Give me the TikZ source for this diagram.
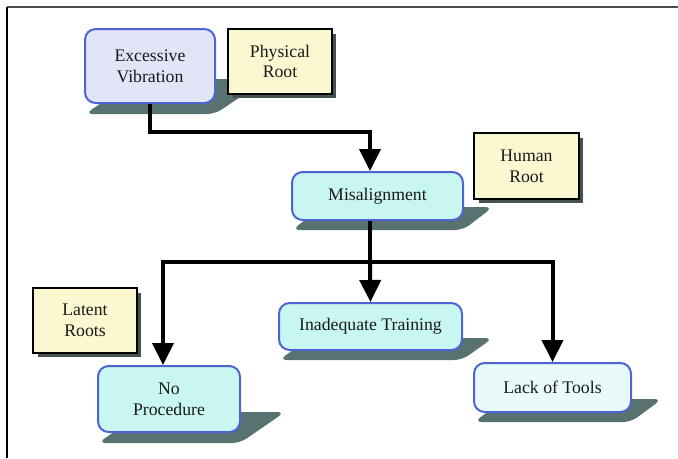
\documentclass[tikz,border=0pt]{standalone}
\usepackage{fontspec}
\setmainfont{Liberation Serif}
\newfontfamily\labelfont{Liberation Serif}
\usetikzlibrary{arrows.meta,calc}

\definecolor{rborder}{HTML}{4D63D6}
\definecolor{aquafill}{HTML}{C8F6F0}
\definecolor{palefill}{HTML}{E8FBFA}
\definecolor{lavfill}{HTML}{E2E4F8}
\definecolor{notefill}{HTML}{FBF7D0}
\definecolor{slab}{HTML}{587272}
\definecolor{noteshadow}{HTML}{465252}
\definecolor{ink}{HTML}{1A1A1A}

\begin{document}
\begin{tikzpicture}[x=0.75pt,y=-0.75pt,
  every node/.style={font=\labelfont\fontsize{13.3}{15.5}\selectfont, text=ink, align=center, inner sep=0pt},
  cause/.style={draw=rborder, line width=1.5pt, rounded corners=8pt, fill=aquafill},
  note/.style={draw=black, line width=1.1pt, fill=notefill},
  slabshadow/.style={fill=slab, rounded corners=6pt},
  conn/.style={line width=3pt, draw=black, -{Triangle[width=15.75pt,length=16.5pt]}},
  trunk/.style={line width=3pt, draw=black}]

\useasboundingbox (0,0) rectangle (678,458);

% page frame
\draw[line width=1.5pt, black!70] (7,7) -- (678,7);
\draw[line width=1.1pt, black] (7,7) -- (7,458);

% slanted slab shadows under the rounded boxes
\fill[slabshadow] (85,114) -- (215,114) -- (267,79) -- (137,79) -- cycle;
\fill[slabshadow] (292,230) -- (463,230) -- (493,207) -- (322,207) -- cycle;
\fill[slabshadow] (98,443) -- (240,443) -- (285,412) -- (143,412) -- cycle;
\fill[slabshadow] (279,360) -- (462,360) -- (493,338) -- (310,338) -- cycle;
\fill[slabshadow] (474,422) -- (631,422) -- (662,399) -- (505,399) -- cycle;

% rounded cause boxes
\node[cause, fill=lavfill, minimum width=97.5pt, minimum height=55.5pt] (ev) at (150,66) {Excessive\\Vibration};
\node[cause, minimum width=128.25pt, minimum height=36pt] (mis) at (377.5,196) {Misalignment};
\node[cause, minimum width=106.5pt, minimum height=49.5pt] (np) at (169,399) {No\\Procedure};
\node[cause, minimum width=137.25pt, minimum height=35.25pt] (it) at (370.5,326.5) {Inadequate Training};
\node[cause, fill=palefill, minimum width=117.75pt, minimum height=36.75pt] (lt) at (552.5,387.5) {Lack of Tools};

% root-type notes with drop shadows
\fill[noteshadow] (233,34) rectangle (336,98);
\node[note, minimum width=78pt, minimum height=48.75pt] (pr) at (280,61.5) {Physical\\Root};
\fill[noteshadow] (479,138) rectangle (583,203);
\node[note, minimum width=78.75pt, minimum height=49.5pt] (hr) at (526.5,166) {Human\\Root};
\fill[noteshadow] (38,293) rectangle (141,357);
\node[note, minimum width=78pt, minimum height=48.75pt] (lr) at (85,320.5) {Latent\\Roots};

% connectors
\coordinate (bend) at (370,132);
\coordinate (hub) at (370,262);
\draw[conn] (ev.south) |- (bend) -- ($(mis.north)+(-7.5,0)$);
\draw[trunk] ($(mis.south)+(-7.5,0)$) -- (hub);
\draw[conn] (hub) -- (it.north);
\draw[conn] (hub) -| ($(np.north)+(-6,0)$);
\draw[conn] (hub) -| (lt.north);

\end{tikzpicture}
\end{document}
